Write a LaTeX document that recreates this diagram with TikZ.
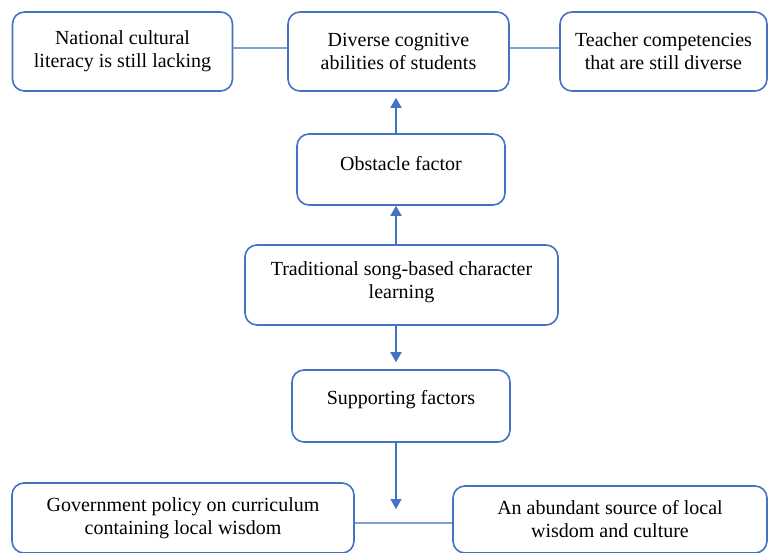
\documentclass[tikz,border=0pt]{standalone}
\usepackage{fontspec}
\setmainfont{Liberation Serif}
\usetikzlibrary{arrows.meta}
\definecolor{boxblue}{HTML}{4472C4}
\definecolor{linkblue}{HTML}{7F9FD6}
\begin{document}
\begin{tikzpicture}[x=1pt,y=-1pt,
  box/.style={draw=boxblue, line width=1.6pt, rounded corners=12pt, align=center,
    font=\fontsize{20}{23}\selectfont, inner sep=0pt},
  arr/.style={draw=boxblue, line width=1.6pt, -{Triangle[width=11pt,length=10pt]}},
  link/.style={draw=linkblue, line width=1.2pt}]
\useasboundingbox (0,0) rectangle (768,552);
\node[box, minimum width=220pt, minimum height=79pt] (n1) at (122.5,51.5) {National cultural\\literacy is still lacking};
\node[box, minimum width=221pt, minimum height=79pt] (n2) at (398.5,51.5) {Diverse cognitive\\abilities of students};
\node[box, minimum width=207pt, minimum height=79pt] (n3) at (663.5,51.5) {Teacher competencies\\that are still diverse};
\node[box, minimum width=208pt, minimum height=71pt] (obs) at (401,169.5) {\raisebox{6pt}[\height][\depth]{Obstacle factor}};
\node[box, minimum width=313pt, minimum height=80pt] (trad) at (401.5,285) {\raisebox{3pt}[\height][\depth]{\parbox{300pt}{\centering Traditional song-based character\\learning}}};
\node[box, minimum width=218pt, minimum height=72pt] (sup) at (401,406) {\raisebox{6pt}[\height][\depth]{Supporting factors}};
\node[box, minimum width=342pt, minimum height=70pt] (gov) at (183,518) {Government policy on curriculum\\containing local wisdom};
\node[box, minimum width=314pt, minimum height=67pt] (abu) at (610,519.5) {An abundant source of local\\wisdom and culture};
\coordinate (ax) at (396,0);
\coordinate (tipend) at (396,509);
\draw[link] (n1.east |- 0,48) -- (n2.west |- 0,48);
\draw[link] (n2.east |- 0,48) -- (n3.west |- 0,48);
\draw[link] (gov.east |- 0,523) -- (abu.west |- 0,523);
\draw[arr, shorten >=6pt] (obs.north -| ax) -- (n2.south -| ax);
\draw[arr, shorten >=0pt] (trad.north -| ax) -- (obs.south -| ax);
\draw[arr, shorten >=7pt] (trad.south -| ax) -- (sup.north -| ax);
\draw[arr] (sup.south -| ax) -- (tipend);
\end{tikzpicture}
\end{document}
